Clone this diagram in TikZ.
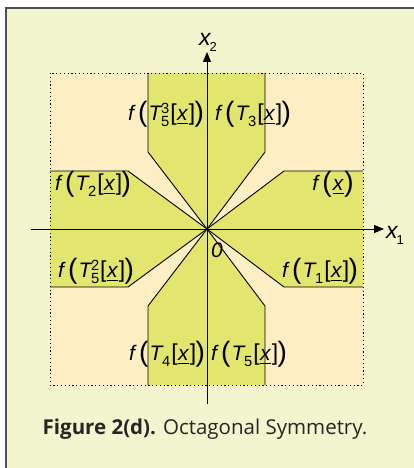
\documentclass[tikz,border=0pt]{standalone}
\usepackage{amsmath}
\usepackage{fontspec}
\setmainfont{Liberation Sans}
\newfontfamily\capfont{Open Sans}
\usetikzlibrary{arrows.meta}
\definecolor{outerbg}{RGB}{242,245,206}
\definecolor{peach}{RGB}{253,238,196}
\definecolor{band}{RGB}{226,229,110}
\definecolor{framegray}{RGB}{80,80,80}
\newcommand{\lp}{{\fontsize{28}{28}\selectfont\raisebox{-0.5pt}{(}}}
\newcommand{\rp}{{\fontsize{28}{28}\selectfont\raisebox{-0.5pt}{)}}}
\newcommand{\lb}{{\fontsize{23}{23}\selectfont[}}
\newcommand{\rb}{{\fontsize{23}{23}\selectfont]}}
\newcommand{\ux}{\underline{\textit{x}}}
\newcommand{\Tsb}[2]{\textit{T}\kern-1.5pt$_{\text{#1}}^{\text{#2}}$}
\newcommand{\flab}[2]{\textit{f}\kern2.5pt\lp\kern1pt\Tsb{#1}{#2}\kern0.5pt\lb\kern0.5pt\ux\kern0.5pt\rb\kern-0.5pt\rp}
\tikzset{
  lab/.style={inner sep=0pt, font=\fontsize{21}{21}\selectfont},
  axlab/.style={inner sep=0pt, font=\fontsize{23}{23}\selectfont\itshape},
  bandedge/.style={draw=black, line width=0.9pt, line join=round},
  axis/.style={draw=black, line width=0.9pt, -{Triangle[length=10pt,width=8pt]}},
}
\begin{document}
\begin{tikzpicture}[x=1pt,y=-1pt]
\useasboundingbox (0,0) rectangle (414,468);
% outer frame
\fill[outerbg] (6,8) rectangle (414,468);
\draw[framegray, line width=1.5pt] (6,468) -- (6,8) -- (414,8);
% dotted region
\fill[peach] (50,73) rectangle (363,385);
% bands
\fill[band] (148,73) -- (148,152) -- (207,229) -- (265,152) -- (265,73) -- cycle;
\fill[band] (148,385) -- (148,306) -- (207,229) -- (265,306) -- (265,385) -- cycle;
\fill[band] (50,171) -- (128,171) -- (207,229) -- (128,287) -- (50,287) -- cycle;
\fill[band] (363,171) -- (284,171) -- (207,229) -- (284,287) -- (363,287) -- cycle;
\draw[bandedge] (148,73) -- (148,152) -- (207,229) -- (265,152) -- (265,73);
\draw[bandedge] (148,385) -- (148,306) -- (207,229) -- (265,306) -- (265,385);
\draw[bandedge] (50,171) -- (128,171) -- (207,229) -- (128,287) -- (50,287);
\draw[bandedge] (363,171) -- (284,171) -- (207,229) -- (284,287) -- (363,287);
\draw[black, line width=0.8pt, dash pattern=on 1.2pt off 2.6pt] (50,73) rectangle (363,385);
% axes
\coordinate (x1s) at (31,229);
\coordinate (x1e) at (384,229);
\coordinate (x2s) at (207,404);
\coordinate (x2e) at (207,52);
\draw[axis] (x1s) -- (x1e);
\draw[axis] (x2s) -- (x2e);
\node[axlab] (lx2) at (208,42) {x\kern-1pt\raisebox{-6pt}{\upshape\fontsize{13}{13}\selectfont 2}};
\node[axlab] (lx1) at (395,235) {x\kern-1pt\raisebox{-6pt}{\upshape\fontsize{13}{13}\selectfont 1}};
\node[lab, font=\fontsize{21}{21}\selectfont\itshape] (zero) at (217,250) {0};
% labels
\node[lab] (l53) at (166,114) {\flab{5}{3}};
\node[lab] (l3) at (253,114) {\flab{3}{}};
\node[lab] (l2) at (93,184) {\flab{2}{}};
\node[lab] (l0) at (333,184) {\textit{f}\kern2.5pt\lp\kern1pt\ux\kern0.5pt\rp};
\node[lab] (l52) at (96,271) {\flab{5}{2}};
\node[lab] (l1) at (320,271) {\flab{1}{}};
\node[lab] (l4) at (167,354) {\flab{4}{}};
\node[lab] (l5) at (249,354) {\flab{5}{}};
% caption
\node[inner sep=0pt, font=\capfont\fontsize{20.5}{20.5}\selectfont, text=black!85] (cap) at (205,429) {\textbf{Figure 2(d).} Octagonal Symmetry.};
\end{tikzpicture}
\end{document}
